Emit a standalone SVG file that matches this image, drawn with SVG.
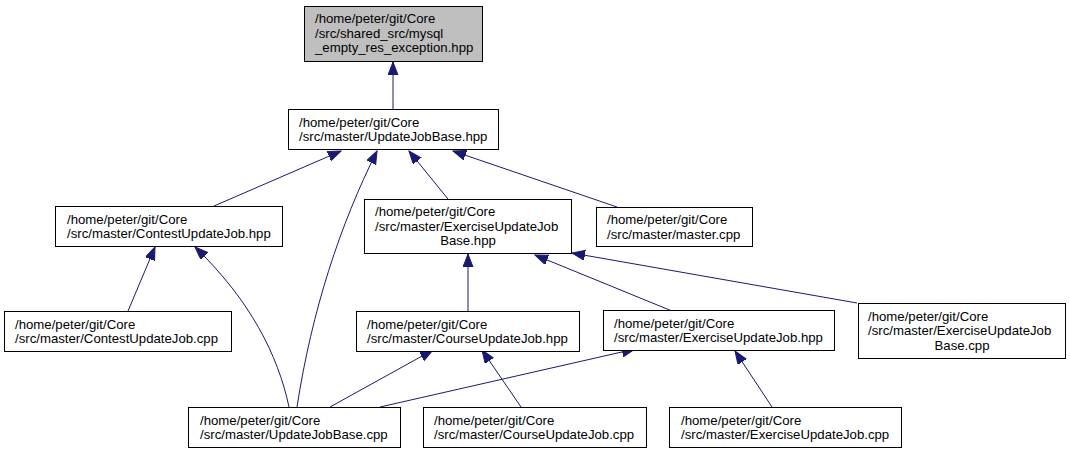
<svg xmlns="http://www.w3.org/2000/svg" width="1070" height="453" viewBox="0 0 1070 453">
<style>
.box{fill:#ffffff;stroke:#000000;stroke-width:1}
.root{fill:#bfbfbf;stroke:#000000;stroke-width:1}
text{font-family:"Liberation Sans",Arial,sans-serif;font-size:13.2px;fill:#000000}
.c{text-anchor:middle}
.edge{fill:none;stroke:#191970;stroke-width:1;marker-end:url(#arr)}
</style>
<defs>
<marker id="arr" markerUnits="userSpaceOnUse" markerWidth="14" markerHeight="11" refX="13" refY="5" orient="auto">
<path d="M0,0 L13,5 L0,10 z" fill="#191970" stroke="#191970" stroke-width="1"/>
</marker>
</defs>
<rect width="1070" height="453" fill="#ffffff"/>
<g id="connectors">
<path class="edge" d="M393,109 L393,62"/>
<path class="edge" d="M214,206 L341,151"/>
<path class="edge" d="M297,407 C312,310 340,225 377,151"/>
<path class="edge" d="M448,199 L409,151"/>
<path class="edge" d="M617,207 L453,151"/>
<path class="edge" d="M128,311 L155,247"/>
<path class="edge" d="M289,407 C278,355 250,300 195,247"/>
<path class="edge" d="M468,311 L468,254"/>
<path class="edge" d="M672,311 L535,255"/>
<path class="edge" d="M857,303 L572,253"/>
<path class="edge" d="M330,407 L433,350"/>
<path class="edge" d="M521,407 L482,350"/>
<path class="edge" d="M380,407 L635,349"/>
<path class="edge" d="M772,407 L735,351"/>
</g>
<g id="n0">
<rect class="root" x="304.5" y="6.5" width="178" height="55"/>
<text x="315" y="23">/home/peter/git/Core</text>
<text x="315" y="37.5">/src/shared_src/mysql</text>
<text x="315" y="52">_empty_res_exception.hpp</text>
</g>
<g id="n1">
<rect class="box" x="288.5" y="109.5" width="210" height="40"/>
<text x="299" y="126.5">/home/peter/git/Core</text>
<text x="299" y="141">/src/master/UpdateJobBase.hpp</text>
</g>
<g id="n2">
<rect class="box" x="55.5" y="206.5" width="227" height="40"/>
<text x="67" y="223.5">/home/peter/git/Core</text>
<text x="67" y="238">/src/master/ContestUpdateJob.hpp</text>
</g>
<g id="n3">
<rect class="box" x="364.5" y="199.5" width="207" height="54"/>
<text x="375" y="216">/home/peter/git/Core</text>
<text x="375" y="230.5">/src/master/ExerciseUpdateJob</text>
<text class="c" x="468" y="245">Base.hpp</text>
</g>
<g id="n4">
<rect class="box" x="596.5" y="207.5" width="156" height="39"/>
<text x="607" y="224">/home/peter/git/Core</text>
<text x="607" y="238.5">/src/master/master.cpp</text>
</g>
<g id="n5">
<rect class="box" x="4.5" y="311.5" width="227" height="40"/>
<text x="15" y="328.5">/home/peter/git/Core</text>
<text x="15" y="343">/src/master/ContestUpdateJob.cpp</text>
</g>
<g id="n6">
<rect class="box" x="356.5" y="311.5" width="223" height="40"/>
<text x="367" y="328.5">/home/peter/git/Core</text>
<text x="367" y="343">/src/master/CourseUpdateJob.hpp</text>
</g>
<g id="n7">
<rect class="box" x="603.5" y="310.5" width="231" height="40"/>
<text x="614" y="327.5">/home/peter/git/Core</text>
<text x="614" y="342">/src/master/ExerciseUpdateJob.hpp</text>
</g>
<g id="n8">
<rect class="box" x="858.5" y="303.5" width="207" height="55"/>
<text x="868" y="320.5">/home/peter/git/Core</text>
<text x="868" y="335">/src/master/ExerciseUpdateJob</text>
<text class="c" x="962" y="349.5">Base.cpp</text>
</g>
<g id="n9">
<rect class="box" x="188.5" y="407.5" width="212" height="40"/>
<text x="200" y="424.5">/home/peter/git/Core</text>
<text x="200" y="439">/src/master/UpdateJobBase.cpp</text>
</g>
<g id="n10">
<rect class="box" x="423.5" y="407.5" width="223" height="40"/>
<text x="434" y="424.5">/home/peter/git/Core</text>
<text x="434" y="439">/src/master/CourseUpdateJob.cpp</text>
</g>
<g id="n11">
<rect class="box" x="669.5" y="407.5" width="232" height="40"/>
<text x="681" y="424.5">/home/peter/git/Core</text>
<text x="681" y="439">/src/master/ExerciseUpdateJob.cpp</text>
</g>
</svg>
